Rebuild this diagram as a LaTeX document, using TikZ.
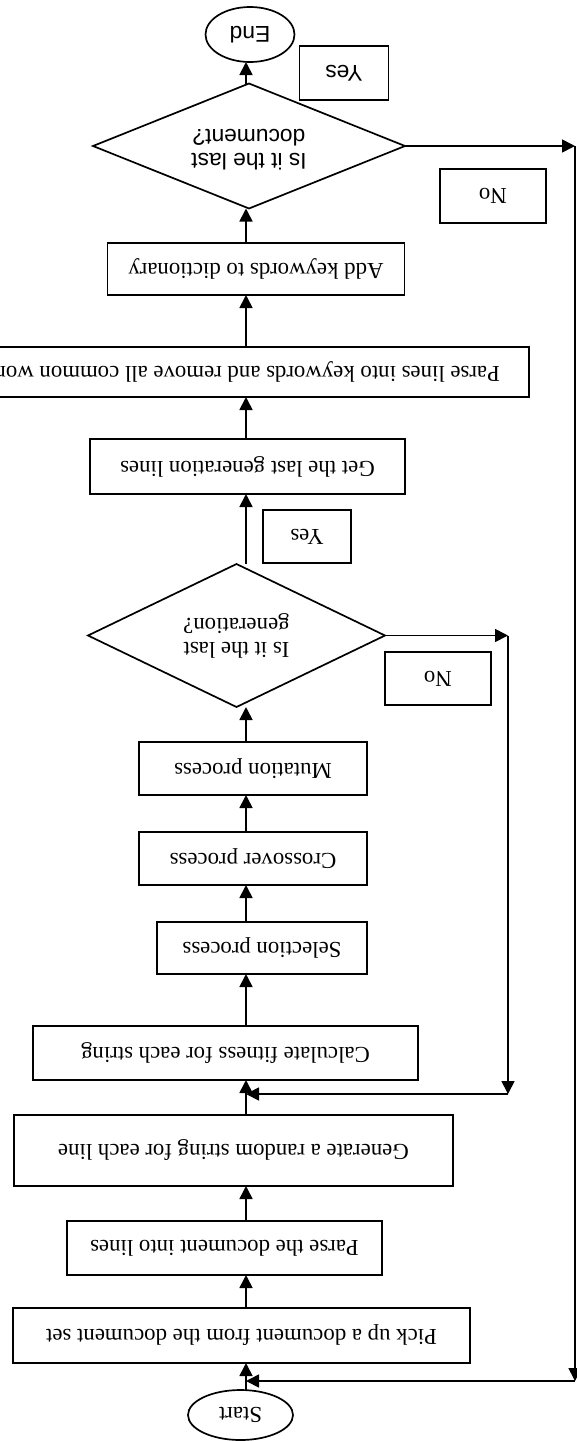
\documentclass[tikz,border=0pt]{standalone}
\usepackage{fontspec}
\setmainfont{Liberation Serif}
\newfontfamily\arialfont{Liberation Sans}
\usepackage{graphicx}
\usetikzlibrary{shapes.geometric,arrows.meta}

\newcommand{\flip}[1]{\rotatebox[origin=c]{180}{#1}}
\newcommand{\twolines}[2]{\fontsize{11.4}{12}\selectfont\begin{tabular}{@{}c@{}}#1\\#2\end{tabular}}

\begin{document}
\begin{tikzpicture}[x=0.5pt,y=-0.5pt,
  every node/.style={font=\fontsize{11.4}{13.7}\selectfont, inner sep=0pt, outer sep=0pt},
  box/.style={draw, line width=0.85pt, rectangle},
  arr/.style={line width=0.85pt, -{Triangle[length=6.5pt,width=6.5pt]}},
  oval/.style={draw, line width=0.85pt, ellipse},
  decision/.style={draw, line width=0.85pt, diamond, aspect=2.5}]

\useasboundingbox (0,0) rectangle (577,1441);
\clip (0,0) rectangle (577,1441);
\fill[white] (0,0) rectangle (577,1441);

\coordinate (axis) at (246,0);

% nodes
\node[oval, minimum width=44.5pt, minimum height=27.5pt] (end) at (250,34.5) {\flip{\arialfont End}};
\node[decision, minimum width=156pt, minimum height=62.5pt] (d1) at (249,146)
  {\flip{\arialfont\twolines{Is it the last}{document?}}};
\node[box, minimum width=44.5pt, minimum height=27pt] (yes1) at (344,73) {\flip{\arialfont Yes}};
\node[box, minimum width=53pt, minimum height=27pt] (no1) at (493,196) {\flip{No}};
\node[box, minimum width=148.5pt, minimum height=26pt] (add) at (256,269) {\flip{Add keywords to dictionary}};
\node[box, minimum width=290pt, minimum height=25pt] (plines) at (239,372)
  {\flip{Parse lines into keywords and remove all common words}};
\node[box, minimum width=157.5pt, minimum height=27.5pt] (getlast) at (247.5,466.5) {\flip{Get the last generation lines}};
\node[box, minimum width=44pt, minimum height=26.5pt] (yes2) at (307,536.5) {\flip{Yes}};
\node[decision, minimum width=148.5pt, minimum height=71.5pt] (d2) at (236.5,635.5)
  {\flip{\twolines{Is it the last}{generation?}}};
\node[box, minimum width=53pt, minimum height=26.5pt] (no2) at (438,678.5) {\flip{No}};
\node[box, minimum width=114pt, minimum height=26.5pt] (mut) at (253,768.5) {\flip{Mutation process}};
\node[box, minimum width=114pt, minimum height=26.5pt] (cross) at (253,858.5) {\flip{Crossover process}};
\node[box, minimum width=105pt, minimum height=26pt] (sel) at (262,948) {\flip{Selection process}};
\node[box, minimum width=192.5pt, minimum height=27pt] (calc) at (225.5,1053) {\flip{Calculate fitness for each string}};
\node[box, minimum width=219.5pt, minimum height=35.5pt] (gen) at (233.5,1150.5) {\flip{Generate a random string for each line}};
\node[box, minimum width=157.5pt, minimum height=27pt] (pdoc) at (224.5,1248) {\flip{Parse the document into lines}};
\node[box, minimum width=228.5pt, minimum height=27.5pt] (pick) at (241.5,1335.5) {\flip{Pick up a document from the document set}};
\node[oval, minimum width=52.5pt, minimum height=25pt] (start) at (240.5,1415) {\flip{Start}};

% loop corner points
\coordinate (c1) at (575,146);
\coordinate (c2) at (575,1381);
\coordinate (c3) at (508,635.5);
\coordinate (c4) at (508,1094);

% main flow (upwards in the picture)
\draw[arr] (start.north -| axis) -- (pick.south -| axis);
\draw[arr] (pick.north -| axis) -- (pdoc.south -| axis);
\draw[arr] (pdoc.north -| axis) -- (gen.south -| axis);
\draw[arr] (gen.north -| axis) -- (calc.south -| axis);
\draw[arr] (calc.north -| axis) -- (sel.south -| axis);
\draw[arr] (sel.north -| axis) -- (cross.south -| axis);
\draw[arr] (cross.north -| axis) -- (mut.south -| axis);
\draw[arr] (mut.north -| axis) -- (d2.south -| axis);
\draw[arr] (d2.north -| axis) -- (getlast.south -| axis);
\draw[arr] (getlast.north -| axis) -- (plines.south -| axis);
\draw[arr] (plines.north -| axis) -- (add.south -| axis);
\draw[arr] (add.north -| axis) -- (d1.south -| axis);
\draw[arr] (d1.north -| axis) -- (end.south -| axis);

% "No" loop of the generation decision
\draw[arr] (d2.east) -- (c3);
\draw[arr] (c3) -- (c4);
\draw[arr] (c4) -- (c4 -| axis);

% "No" loop of the document decision
\draw[arr] (d1.east) -- (c1);
\draw[arr] (c1) -- (c2);
\draw[arr] (c2) -- (c2 -| axis);

\end{tikzpicture}
\end{document}
